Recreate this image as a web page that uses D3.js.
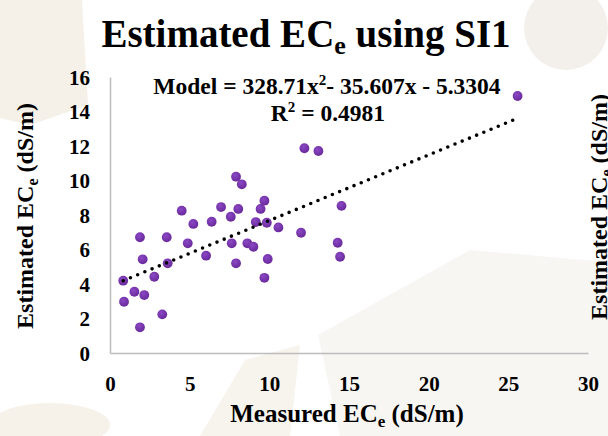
<!DOCTYPE html>
<html lang="en">
<head>
    <meta charset="UTF-8">
    <title>Estimated ECe using SI1</title>
    <script src="https://d3js.org/d3.v7.min.js"></script>
    <style>
        body { margin: 0; background: #fff; }
        svg { display: block; }
        text { font-family: "Liberation Serif", "Times New Roman", serif; font-weight: bold; fill: #000; }
    </style>
</head>
<body>
    <script>
        // measured vs estimated ECe (dS/m)
        const measured = [
            0.83, 0.88, 1.53, 1.88, 1.88, 2.05, 2.15, 2.78, 3.28, 3.56,
            3.62, 4.50, 4.88, 5.23, 6.03, 6.38, 6.97, 7.58, 7.64, 7.91,
            7.91, 8.05, 8.27, 8.62, 9.00, 9.15, 9.45, 9.69, 9.69, 9.84,
            9.90, 10.57, 11.99, 12.20, 13.08, 14.29, 14.44, 14.53, 25.58
        ];
        const estimated = [
            4.19, 2.97, 3.55, 6.71, 1.49, 5.43, 3.36, 4.42, 2.24, 6.71,
            5.20, 8.25, 6.36, 7.48, 5.64, 7.61, 8.46, 7.90, 6.36, 10.22,
            5.20, 8.35, 9.78, 6.36, 6.16, 7.59, 8.35, 8.83, 4.36, 7.55,
            5.45, 7.28, 6.97, 11.87, 11.71, 6.39, 5.58, 8.53, 14.90
        ];

        // trend line ends
        const trendX = [0.83, 25.3];
        const trendY = [4.19, 13.5];

        const xTicks = [0, 5, 10, 15, 20, 25, 30];
        const yTicks = [0, 2, 4, 6, 8, 10, 12, 14, 16];

        const w = 608;
        const h = 436;

        const xScale = d3.scaleLinear()
                        .domain([0, 30])
                        .range([110, 588]);

        const yScale = d3.scaleLinear()
                        .domain([0, 16])
                        .range([353, 77]);

        const svg = d3.select("body")
            .append("svg")
            .attr("width", w)
            .attr("height", h);

        // faint watermark shapes behind the chart
        const bg = svg.append("g");
        bg.append("path").attr("d", "M0,0 L82,0 L88,105 L30,125 L0,118 Z").attr("fill", "#f5f0e8");
        bg.append("circle").attr("cx", 566).attr("cy", 28).attr("r", 42).attr("fill", "#f3f0eb");
        bg.append("path").attr("d", "M318,335 L470,250 L608,262 L608,436 L340,436 Z").attr("fill", "#f8f6f3");
        bg.append("ellipse").attr("cx", 50).attr("cy", 425).attr("rx", 60).attr("ry", 22).attr("fill", "#f6f1e9");
        bg.append("path").attr("d", "M200,436 L245,360 L300,345 L290,436 Z").attr("fill", "#f7f3ed");

        const defs = svg.append("defs");
        const grad = defs.append("radialGradient")
            .attr("id", "dot")
            .attr("cx", "40%").attr("cy", "35%").attr("r", "65%");
        grad.append("stop").attr("offset", "0%").attr("stop-color", "#8a48c4");
        grad.append("stop").attr("offset", "100%").attr("stop-color", "#6a2a9c");

        // axes
        const xAxis = d3.axisBottom(xScale)
            .tickValues(xTicks)
            .tickSize(0)
            .tickSizeOuter(0)
            .tickPadding(23);

        const yAxis = d3.axisLeft(yScale)
            .tickValues(yTicks)
            .tickSize(0)
            .tickSizeOuter(0)
            .tickPadding(20);

        const gx = svg.append("g")
            .attr("transform", "translate(0," + yScale(0) + ")")
            .call(xAxis);

        const gy = svg.append("g")
            .attr("transform", "translate(" + xScale(0) + ",0)")
            .call(yAxis);

        [gx, gy].forEach(g => {
            g.attr("font-family", null).attr("font-size", null);
            g.select(".domain").attr("stroke", "#bdbdbd").attr("stroke-width", 1.5);
            g.selectAll("text")
                .style("font-family", "'Liberation Serif', 'Times New Roman', serif")
                .style("font-weight", "bold")
                .style("font-size", "21px")
                .attr("fill", "#000");
        });
        gy.selectAll("text").attr("dy", "0.35em");

        // points
        svg.append("g")
            .selectAll("circle")
            .data(measured)
            .enter()
            .append("circle")
            .attr("cx", (d) => xScale(d))
            .attr("cy", (d, i) => yScale(estimated[i]))
            .attr("r", 4.9)
            .attr("fill", "url(#dot)");

        // dotted trend line
        const line = d3.line()
            .x((d) => xScale(d))
            .y((d, i) => yScale(trendY[i]));

        svg.append("path")
            .datum(trendX)
            .attr("d", line)
            .attr("fill", "none")
            .attr("stroke", "#000")
            .attr("stroke-width", 3.6)
            .attr("stroke-linecap", "round")
            .attr("stroke-dasharray", "0,7.8");

        // title
        const title = svg.append("text")
            .attr("x", 306)
            .attr("y", 47)
            .attr("text-anchor", "middle")
            .attr("font-size", 39);
        title.append("tspan").text("Estimated EC");
        title.append("tspan").attr("font-size", 26).attr("dy", 7).text("e");
        title.append("tspan").attr("dy", -7).text(" using SI1");

        // equation
        const eq = svg.append("text")
            .attr("x", 327)
            .attr("y", 94)
            .attr("text-anchor", "middle")
            .attr("font-size", 23.5);
        eq.append("tspan").text("Model = 328.71x");
        eq.append("tspan").attr("font-size", 15).attr("dy", -9).text("2");
        eq.append("tspan").attr("dy", 9).text("- 35.607x - 5.3304");

        const r2 = svg.append("text")
            .attr("x", 328)
            .attr("y", 121)
            .attr("text-anchor", "middle")
            .attr("font-size", 23.5);
        r2.append("tspan").text("R");
        r2.append("tspan").attr("font-size", 15).attr("dy", -9).text("2");
        r2.append("tspan").attr("dy", 9).text(" = 0.4981");

        // axis titles
        const xl = svg.append("text")
            .attr("x", 347)
            .attr("y", 422)
            .attr("text-anchor", "middle")
            .attr("font-size", 25);
        xl.append("tspan").text("Measured EC");
        xl.append("tspan").attr("font-size", 17).attr("dy", 5).text("e");
        xl.append("tspan").attr("dy", -5).text(" (dS/m)");

        function yLabel(x, y) {
            const t = svg.append("text")
                .attr("transform", "translate(" + x + "," + y + ") rotate(-90)")
                .attr("text-anchor", "middle")
                .attr("font-size", 24);
            t.append("tspan").text("Estimated EC");
            t.append("tspan").attr("font-size", 16).attr("dy", 5).text("e");
            t.append("tspan").attr("dy", -5).text(" (dS/m)");
        }
        yLabel(33, 216);
        // neighbouring chart's label, cut at the right edge
        yLabel(607, 207);
    </script>
</body>
</html>
